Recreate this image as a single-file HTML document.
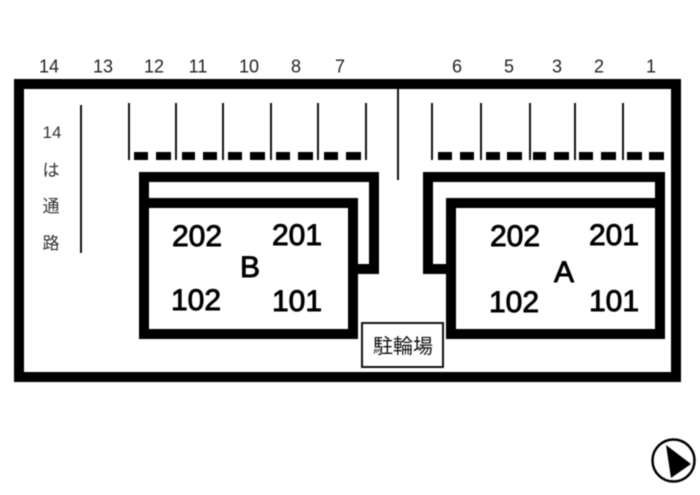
<!DOCTYPE html>
<html lang="ja">
<head>
<meta charset="utf-8">
<style>
html,body{margin:0;padding:0;background:#fff;width:700px;height:495px;overflow:hidden}
svg{display:block;filter:blur(.45px)}
text{font-family:"Liberation Sans","Noto Sans CJK JP",sans-serif;fill:#111}
.top{font-size:18px;fill:#222;text-anchor:middle}
.room{font-size:30px;fill:#000;text-anchor:middle;stroke:#000;stroke-width:.9px}
.side{font-size:17px;fill:#333;text-anchor:middle}
</style>
</head>
<body>
<svg width="700" height="495" viewBox="0 0 700 495" xmlns="http://www.w3.org/2000/svg">
<rect width="700" height="495" fill="#fff"/>
<g class="labels">
<text class="top" x="49" y="72.5">14</text>
<text class="top" x="103" y="72.5">13</text>
<text class="top" x="154" y="72.5">12</text>
<text class="top" x="198" y="72.5">11</text>
<text class="top" x="249" y="72.5">10</text>
<text class="top" x="296" y="72.5">8</text>
<text class="top" x="340" y="72.5">7</text>
<text class="top" x="457" y="72.5">6</text>
<text class="top" x="509" y="72.5">5</text>
<text class="top" x="557" y="72.5">3</text>
<text class="top" x="599" y="72.5">2</text>
<text class="top" x="651" y="72.5">1</text>
</g>
<rect x="19" y="84" width="657" height="293" fill="none" stroke="#000" stroke-width="10"/>
<text class="side" x="52" y="138">14</text>
<text class="side" x="51" y="176">は</text>
<text class="side" x="51" y="212">通</text>
<text class="side" x="51" y="249">路</text>
<g stroke="#111" stroke-width="2" fill="none">
<path d="M81 105V253"/>
<path d="M129 103V160M176 103V160M223 103V160M271 103V160M318 103V160M366 103V160"/>
<path d="M432 103V160M481 103V160M530 103V160M575 103V160M623 103V160"/>
<path d="M398 88V180"/>
</g>
<g fill="#000">
<rect x="134" y="152" width="14" height="8"/><rect x="156" y="152" width="15" height="8"/>
<rect x="182" y="152" width="13" height="8"/><rect x="203" y="152" width="14" height="8"/>
<rect x="228" y="152" width="14" height="8"/><rect x="250" y="152" width="15" height="8"/>
<rect x="276" y="152" width="14" height="8"/><rect x="298" y="152" width="15" height="8"/>
<rect x="324" y="152" width="14" height="8"/><rect x="346" y="152" width="15" height="8"/>
<rect x="438" y="152" width="14" height="8"/><rect x="460" y="152" width="14" height="8"/>
<rect x="486" y="152" width="14" height="8"/><rect x="507" y="152" width="15" height="8"/>
<rect x="533" y="152" width="13" height="8"/><rect x="554" y="152" width="15" height="8"/>
<rect x="579" y="152" width="14" height="8"/><rect x="601" y="152" width="15" height="8"/>
<rect x="627" y="152" width="15" height="8"/><rect x="649" y="152" width="15" height="8"/>
</g>
<g fill="none" stroke="#000" stroke-width="10" stroke-linejoin="miter">
<rect x="144" y="203" width="209" height="131"/>
<path d="M144 203V177H374V269H353"/>
<rect x="451" y="203" width="209" height="131"/>
<path d="M451 269H428V177H660V203"/>
</g>
<rect x="362" y="323" width="81" height="44" fill="#fff" stroke="#111" stroke-width="2"/>
<text x="403" y="353" font-size="20" text-anchor="middle" fill="#333">駐輪場</text>
<text class="room" x="197" y="246">202</text>
<text class="room" x="297" y="245">201</text>
<text class="room" x="196" y="310">102</text>
<text class="room" x="297" y="311">101</text>
<text class="room" x="250" y="277">B</text>
<text class="room" x="515" y="246">202</text>
<text class="room" x="614" y="245">201</text>
<text class="room" x="514" y="312">102</text>
<text class="room" x="614" y="311">101</text>
<text class="room" x="564" y="282">A</text>
<circle cx="673.5" cy="460.5" r="21" fill="#fff" stroke="#000" stroke-width="2.5"/>
<path d="M666 445L691 464L671 478Z" fill="#000"/>
</svg>
</body>
</html>
